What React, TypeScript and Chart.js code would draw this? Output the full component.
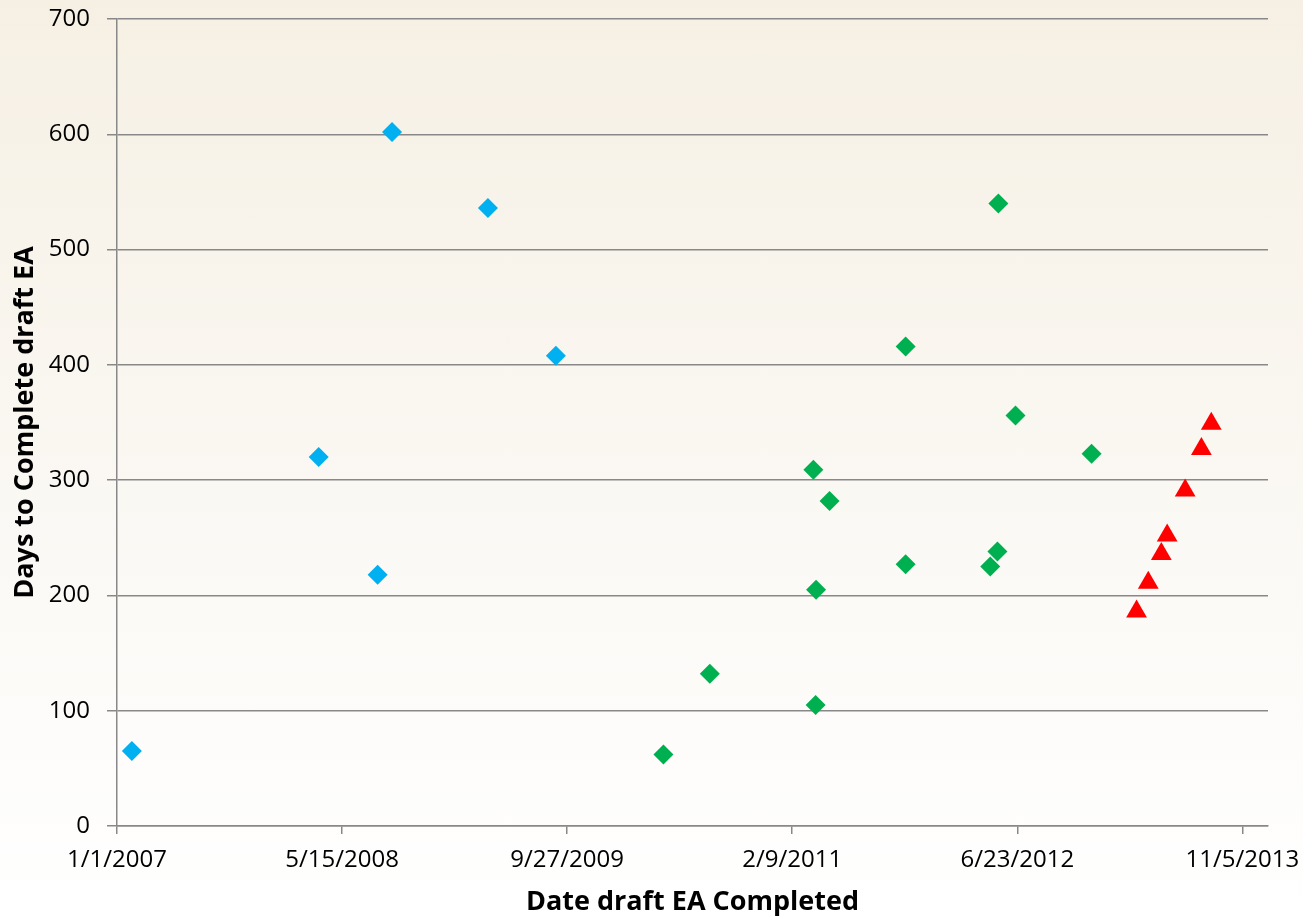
import { useEffect, useRef } from 'react';
import { Chart, registerables } from 'chart.js';

Chart.register(...registerables);

// x values are days since 1/1/2007
const xTickLabels = ['1/1/2007', '5/15/2008', '9/27/2009', '2/9/2011', '6/23/2012', '11/5/2013'];
const xTickStep = 500;
const xMaxDays = 2557;

const blueX = [33, 448, 579, 611, 824, 975];
const blueY = [65, 320, 218, 602, 536, 408];

const greenX = [1214, 1317, 1547, 1553, 1552, 1583, 1752, 1752, 1940, 1956, 1958, 1996, 2165];
const greenY = [62, 132, 309, 205, 105, 282, 416, 227, 225, 238, 540, 356, 323];

const redX = [2265, 2291, 2320, 2333, 2373, 2409, 2431];
const redY = [186, 211, 236, 252, 291, 327, 349];

const toPoints = (xs: number[], ys: number[]) => xs.map((x, i) => ({ x, y: ys[i] }));

const FONT = 'Open Sans';
const GRID = '#888888';

export default function App() {
  const ref = useRef<HTMLCanvasElement>(null);

  useEffect(() => {
    const chart = new Chart(ref.current!, {
      type: 'scatter',
      data: {
        datasets: [
          {
            data: toPoints(blueX, blueY),
            pointStyle: 'rectRot',
            pointRadius: 10,
            backgroundColor: '#00B0F0',
            borderColor: '#00B0F0',
            borderWidth: 0,
          },
          {
            data: toPoints(greenX, greenY),
            pointStyle: 'rectRot',
            pointRadius: 10,
            backgroundColor: '#00B050',
            borderColor: '#00B050',
            borderWidth: 0,
          },
          {
            data: toPoints(redX, redY),
            pointStyle: 'triangle',
            pointRadius: 12,
            backgroundColor: '#FF0000',
            borderColor: '#FF0000',
            borderWidth: 0,
          },
        ],
      },
      options: {
        animation: false,
        responsive: false,
        devicePixelRatio: 1,
        layout: { padding: { top: 19, right: 35, left: 0, bottom: 0 } },
        plugins: { legend: { display: false }, tooltip: { enabled: false } },
        scales: {
          x: {
            type: 'linear',
            min: 0,
            max: xMaxDays,
            afterBuildTicks: (s: any) => {
              s.ticks = xTickLabels.map((_, i) => ({ value: i * xTickStep }));
            },
            afterFit: (s: any) => {
              s.height = 94;
              s.paddingLeft = 0;
              s.paddingRight = 0;
            },
            ticks: {
              autoSkip: false,
              maxRotation: 0,
              callback: (v: any) => xTickLabels[Math.round(Number(v) / xTickStep)] ?? '',
              font: { family: FONT, size: 24 },
              color: '#000',
              padding: 12,
            },
            grid: { drawOnChartArea: false, drawTicks: true, tickLength: 8, color: GRID, lineWidth: 1.5 },
            border: { color: GRID, width: 1.5 },
            title: {
              display: true,
              text: 'Date draft EA Completed',
              font: { family: FONT, size: 27, weight: 'bold' },
              color: '#000',
              padding: { top: 0, bottom: 1 },
            },
          },
          y: {
            min: 0,
            max: 700,
            afterFit: (s: any) => {
              s.width = 117;
              s.paddingTop = 0;
              s.paddingBottom = 0;
            },
            ticks: {
              stepSize: 100,
              font: { family: FONT, size: 24 },
              color: '#000',
              padding: 17,
            },
            grid: { color: GRID, lineWidth: 1.5, tickLength: 10 },
            border: { color: GRID, width: 1.5 },
            title: {
              display: true,
              text: 'Days to Complete draft EA',
              font: { family: FONT, size: 27, weight: 'bold' },
              color: '#000',
              padding: { top: 9, bottom: 0 },
            },
          },
        },
      },
    } as any);
    return () => chart.destroy();
  }, []);

  return (
    <div
      style={{
        position: 'fixed',
        left: 0,
        top: 0,
        width: 1303,
        height: 920,
        background: 'linear-gradient(to bottom, #f6f0e4 0%, #fbf9f5 60%, #ffffff 100%)',
      }}
    >
      <canvas ref={ref} width={1303} height={920} style={{ width: 1303, height: 920, display: 'block' }} />
    </div>
  );
}
